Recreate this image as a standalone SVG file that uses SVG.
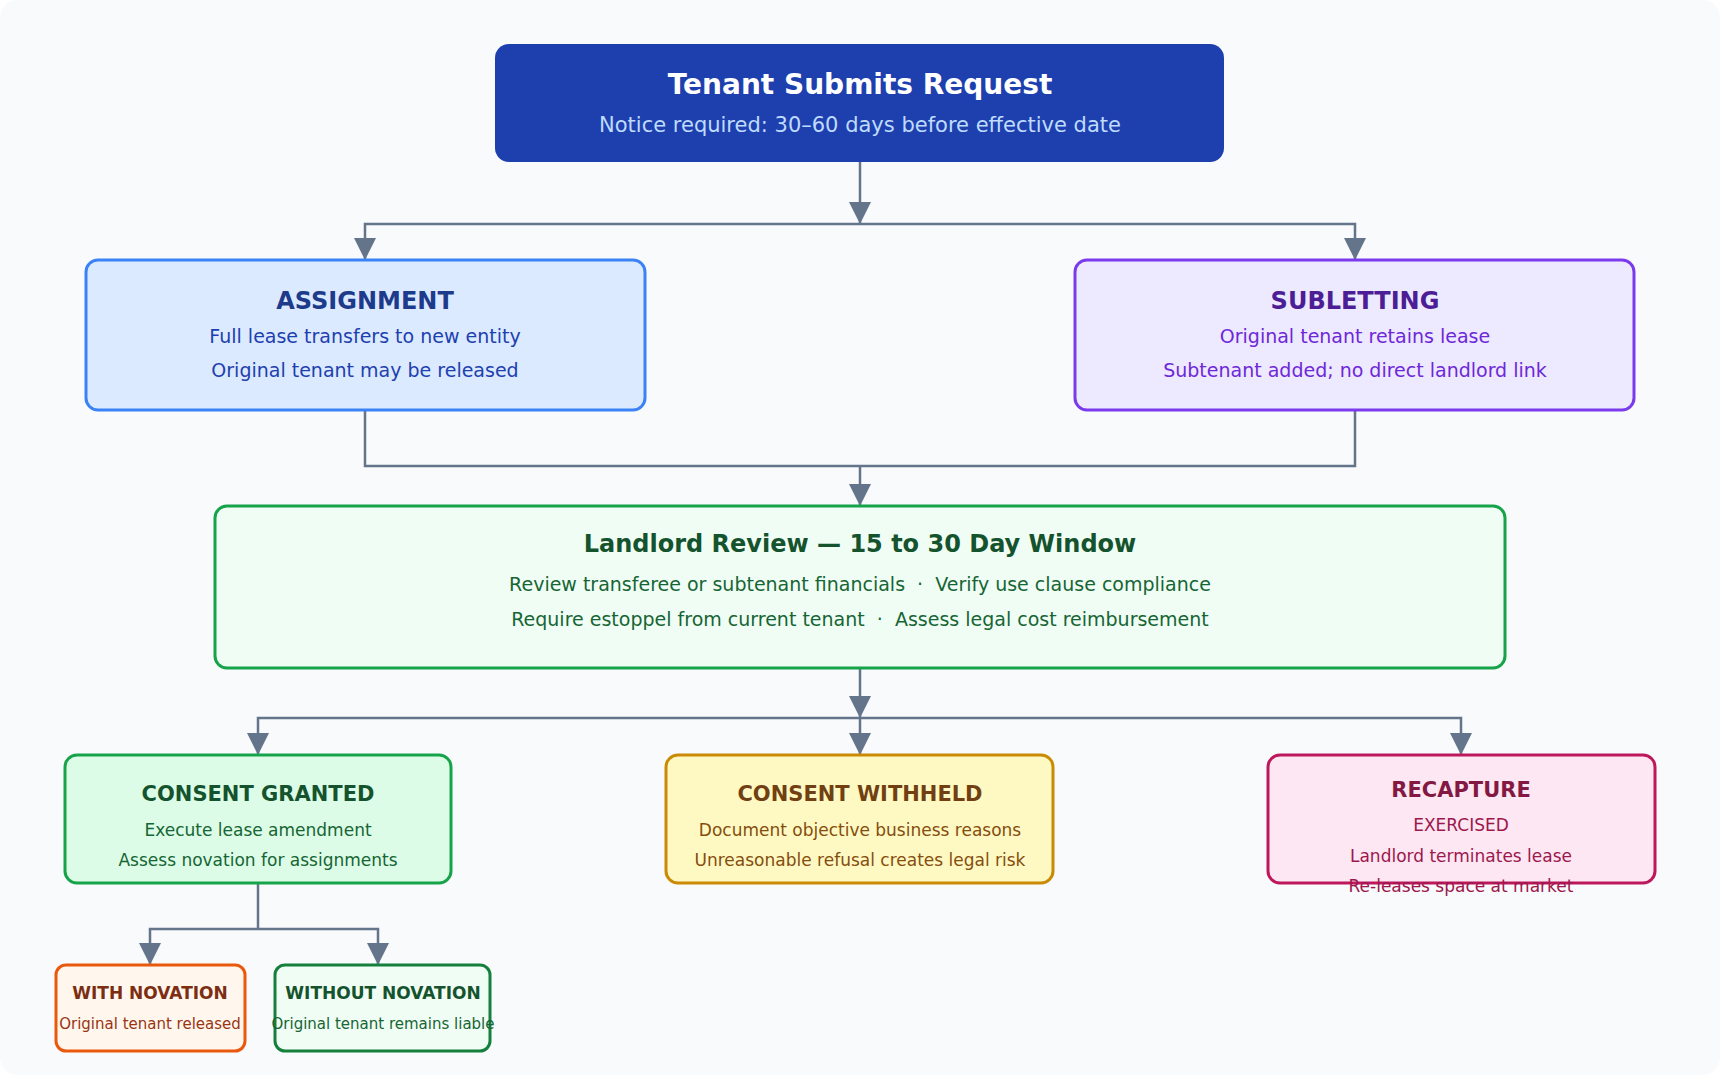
<svg xmlns="http://www.w3.org/2000/svg" width="1720" height="1075" viewBox="0 0 1720 1075">
<defs>
<marker id="ah" viewBox="0 0 10 10" refX="10" refY="5" markerWidth="22" markerHeight="22" markerUnits="userSpaceOnUse" orient="auto"><path d="M0,0 L10,5 L0,10 z" fill="#64748b"/></marker>
<style>
text{font-family:"DejaVu Sans",sans-serif;text-anchor:middle}
.c{fill:none;stroke:#64748b;stroke-width:2.5}
.a{marker-end:url(#ah)}
.t{font-weight:bold}
</style>
</defs>
<rect width="1720" height="1075" rx="18" fill="#f8fafc"/>
<g id="connectors">
<path class="c a" d="M860,162 V224"/>
<path class="c a" d="M860,224 H365 V260"/>
<path class="c a" d="M860,224 H1355 V260"/>
<path class="c" d="M365,410 V466 H1355 V410"/>
<path class="c a" d="M860,466 V506"/>
<path class="c a" d="M860,668 V718"/>
<path class="c a" d="M860,718 H258 V755"/>
<path class="c a" d="M860,718 V755"/>
<path class="c a" d="M860,718 H1461 V755"/>
<path class="c" d="M258,883 V929"/>
<path class="c a" d="M258,929 H150 V965"/>
<path class="c a" d="M258,929 H378 V965"/>
</g>
<g id="n-request">
<rect x="495" y="44" width="729" height="118" rx="14" fill="#1e40af"/>
<text x="860" y="94" class="t" font-size="28" fill="#ffffff">Tenant Submits Request</text>
<text x="860" y="132" font-size="21" fill="#bfdbfe">Notice required: 30–60 days before effective date</text>
</g>
<g id="n-assignment">
<rect x="86" y="260" width="559" height="150" rx="12" fill="#dbeafe" stroke="#3b82f6" stroke-width="3"/>
<text x="365" y="309" class="t" font-size="24" fill="#1e3a8a">ASSIGNMENT</text>
<text x="365" y="343" font-size="19" fill="#1e40af">Full lease transfers to new entity</text>
<text x="365" y="377" font-size="19" fill="#1e40af">Original tenant may be released</text>
</g>
<g id="n-subletting">
<rect x="1075" y="260" width="559" height="150" rx="12" fill="#ede9fe" stroke="#7c3aed" stroke-width="3"/>
<text x="1355" y="309" class="t" font-size="24" fill="#4c1d95">SUBLETTING</text>
<text x="1355" y="343" font-size="19" fill="#6d28d9">Original tenant retains lease</text>
<text x="1355" y="377" font-size="19" fill="#6d28d9">Subtenant added; no direct landlord link</text>
</g>
<g id="n-review">
<rect x="215" y="506" width="1290" height="162" rx="12" fill="#f0fdf4" stroke="#16a34a" stroke-width="3"/>
<text x="860" y="552" class="t" font-size="24" fill="#14532d">Landlord Review — 15 to 30 Day Window</text>
<text x="860" y="591" font-size="19" fill="#166534" xml:space="preserve">Review transferee or subtenant financials  ·  Verify use clause compliance</text>
<text x="860" y="626" font-size="19" fill="#166534" xml:space="preserve">Require estoppel from current tenant  ·  Assess legal cost reimbursement</text>
</g>
<g id="n-granted">
<rect x="65" y="755" width="386" height="128" rx="12" fill="#dcfce7" stroke="#16a34a" stroke-width="3"/>
<text x="258" y="801" class="t" font-size="21" fill="#14532d">CONSENT GRANTED</text>
<text x="258" y="836" font-size="17" fill="#166534">Execute lease amendment</text>
<text x="258" y="866" font-size="17" fill="#166534">Assess novation for assignments</text>
</g>
<g id="n-withheld">
<rect x="666" y="755" width="387" height="128" rx="12" fill="#fef9c3" stroke="#ca8a04" stroke-width="3"/>
<text x="860" y="801" class="t" font-size="21" fill="#713f12">CONSENT WITHHELD</text>
<text x="860" y="836" font-size="17" fill="#854d0e">Document objective business reasons</text>
<text x="860" y="866" font-size="17" fill="#854d0e">Unreasonable refusal creates legal risk</text>
</g>
<g id="n-recapture">
<rect x="1268" y="755" width="387" height="128" rx="12" fill="#fce7f3" stroke="#be185d" stroke-width="3"/>
<text x="1461" y="797" class="t" font-size="21" fill="#831843">RECAPTURE</text>
<text x="1461" y="831" font-size="17" fill="#9d174d">EXERCISED</text>
<text x="1461" y="862" font-size="17" fill="#9d174d">Landlord terminates lease</text>
<text x="1461" y="892" font-size="17" fill="#9d174d">Re-leases space at market</text>
</g>
<g id="n-with">
<rect x="56" y="965" width="189" height="86" rx="10" fill="#fff7ed" stroke="#ea580c" stroke-width="3"/>
<text x="150" y="999" class="t" font-size="17" fill="#7c2d12">WITH NOVATION</text>
<text x="150" y="1029" font-size="15" fill="#9a3412">Original tenant released</text>
</g>
<g id="n-without">
<rect x="275" y="965" width="215" height="86" rx="10" fill="#f0fdf4" stroke="#15803d" stroke-width="3"/>
<text x="383" y="999" class="t" font-size="17" fill="#14532d">WITHOUT NOVATION</text>
<text x="383" y="1029" font-size="15" fill="#166534">Original tenant remains liable</text>
</g>
</svg>
